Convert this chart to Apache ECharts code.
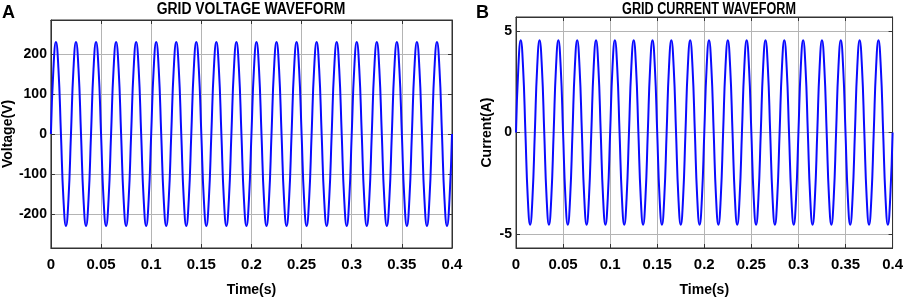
<!DOCTYPE html>
<html>
<head>
<meta charset="utf-8">
<script src="https://cdn.jsdelivr.net/npm/echarts@6/dist/echarts.min.js"></script>
<style>
html,body{margin:0;padding:0;background:#fff;}
#c{width:906px;height:302px;}
</style>
</head>
<body>
<div id="c"></div>
<script>
var timeS = [
0,0.0025,0.005,0.0075,0.01,0.0125,0.015,0.0175,
0.02,0.0225,0.025,0.0275,0.03,0.0325,0.035,0.0375,
0.04,0.0425,0.045,0.0475,0.05,0.0525,0.055,0.0575,
0.06,0.0625,0.065,0.0675,0.07,0.0725,0.075,0.0775,
0.08,0.0825,0.085,0.0875,0.09,0.0925,0.095,0.0975,
0.1,0.1025,0.105,0.1075,0.11,0.1125,0.115,0.1175,
0.12,0.1225,0.125,0.1275,0.13,0.1325,0.135,0.1375,
0.14,0.1425,0.145,0.1475,0.15,0.1525,0.155,0.1575,
0.16,0.1625,0.165,0.1675,0.17,0.1725,0.175,0.1775,
0.18,0.1825,0.185,0.1875,0.19,0.1925,0.195,0.1975,
0.2,0.2025,0.205,0.2075,0.21,0.2125,0.215,0.2175,
0.22,0.2225,0.225,0.2275,0.23,0.2325,0.235,0.2375,
0.24,0.2425,0.245,0.2475,0.25,0.2525,0.255,0.2575,
0.26,0.2625,0.265,0.2675,0.27,0.2725,0.275,0.2775,
0.28,0.2825,0.285,0.2875,0.29,0.2925,0.295,0.2975,
0.3,0.3025,0.305,0.3075,0.31,0.3125,0.315,0.3175,
0.32,0.3225,0.325,0.3275,0.33,0.3325,0.335,0.3375,
0.34,0.3425,0.345,0.3475,0.35,0.3525,0.355,0.3575,
0.36,0.3625,0.365,0.3675,0.37,0.3725,0.375,0.3775,
0.38,0.3825,0.385,0.3875,0.39,0.3925,0.395,0.3975,
0.4
];
var gridVoltage = [
0,163,230,163,0,-163,-230,-163,
0,163,230,163,0,-163,-230,-163,
0,163,230,163,0,-163,-230,-163,
0,163,230,163,0,-163,-230,-163,
0,163,230,163,0,-163,-230,-163,
0,163,230,163,0,-163,-230,-163,
0,163,230,163,0,-163,-230,-163,
0,163,230,163,0,-163,-230,-163,
0,163,230,163,0,-163,-230,-163,
0,163,230,163,0,-163,-230,-163,
0,163,230,163,0,-163,-230,-163,
0,163,230,163,0,-163,-230,-163,
0,163,230,163,0,-163,-230,-163,
0,163,230,163,0,-163,-230,-163,
0,163,230,163,0,-163,-230,-163,
0,163,230,163,0,-163,-230,-163,
0,163,230,163,0,-163,-230,-163,
0,163,230,163,0,-163,-230,-163,
0,163,230,163,0,-163,-230,-163,
0,163,230,163,0,-163,-230,-163,
0
];
var gridCurrent = [
0,3.22,4.55,3.22,0,-3.22,-4.55,-3.22,
0,3.22,4.55,3.22,0,-3.22,-4.55,-3.22,
0,3.22,4.55,3.22,0,-3.22,-4.55,-3.22,
0,3.22,4.55,3.22,0,-3.22,-4.55,-3.22,
0,3.22,4.55,3.22,0,-3.22,-4.55,-3.22,
0,3.22,4.55,3.22,0,-3.22,-4.55,-3.22,
0,3.22,4.55,3.22,0,-3.22,-4.55,-3.22,
0,3.22,4.55,3.22,0,-3.22,-4.55,-3.22,
0,3.22,4.55,3.22,0,-3.22,-4.55,-3.22,
0,3.22,4.55,3.22,0,-3.22,-4.55,-3.22,
0,3.22,4.55,3.22,0,-3.22,-4.55,-3.22,
0,3.22,4.55,3.22,0,-3.22,-4.55,-3.22,
0,3.22,4.55,3.22,0,-3.22,-4.55,-3.22,
0,3.22,4.55,3.22,0,-3.22,-4.55,-3.22,
0,3.22,4.55,3.22,0,-3.22,-4.55,-3.22,
0,3.22,4.55,3.22,0,-3.22,-4.55,-3.22,
0,3.22,4.55,3.22,0,-3.22,-4.55,-3.22,
0,3.22,4.55,3.22,0,-3.22,-4.55,-3.22,
0,3.22,4.55,3.22,0,-3.22,-4.55,-3.22,
0,3.22,4.55,3.22,0,-3.22,-4.55,-3.22,
0
];
var voltageTicks = [-200,-100,0,100,200];
var currentTicks = [-5,0,5];
var titles = ['GRID VOLTAGE WAVEFORM','GRID CURRENT WAVEFORM'];
var panelLetters = ['A','B'];
var yNames = ['Voltage(V)','Current(A)'];
var xName = 'Time(s)';

var FONT = "'Liberation Sans',Arial,sans-serif";
var chart = echarts.init(document.getElementById('c'), null, {renderer:'canvas'});

function pairs(vals){ return timeS.map(function(t,i){return [t, vals[i]];}); }

var gridLine = {show:true, lineStyle:{color:'#b4b4b4', width:1}};

function xAxisMain(gi){
  return {type:'value', gridIndex:gi, min:0, max:0.4, interval:0.05, position:'bottom',
    axisLine:{show:true, onZero:false, lineStyle:{color:'#333', width:1}},
    axisTick:{show:true, inside:true, length:4, lineStyle:{color:'#333'}},
    splitLine:gridLine,
    axisLabel:{margin:9, fontFamily:FONT, fontWeight:'bold', fontSize:15, color:'#000'},
    name:xName, nameLocation:'middle', nameGap:35,
    nameTextStyle:{fontFamily:FONT, fontWeight:'bold', fontSize:14, color:'#000'}};
}
function xAxisTop(gi){
  return {type:'value', gridIndex:gi, min:0, max:0.4, interval:0.05, position:'top',
    axisLine:{show:true, onZero:false, lineStyle:{color:'#333'}},
    axisTick:{show:true, inside:true, length:4, lineStyle:{color:'#333'}},
    splitLine:{show:false}, axisLabel:{show:false}};
}
function yAxisMain(gi, mn, mx, split, ticks, name, gap){
  return {type:'value', gridIndex:gi, min:mn, max:mx, splitNumber:split, position:'left',
    axisLine:{show:true, onZero:false, lineStyle:{color:'#333'}},
    axisTick:{show:true, inside:true, length:4, lineStyle:{color:'#333'}},
    splitLine:gridLine,
    axisLabel:{margin:4, fontFamily:FONT, fontWeight:'bold', fontSize:14, color:'#000',
      formatter:function(v){
        return ticks.indexOf(Math.round(v*1000)/1000) >= 0 ? String(v) : '';}},
    name:name, nameLocation:'middle', nameGap:gap, nameRotate:90,
    nameTextStyle:{fontFamily:FONT, fontWeight:'bold', fontSize:14, color:'#000'}};
}
function yAxisRight(gi, mn, mx, split){
  return {type:'value', gridIndex:gi, min:mn, max:mx, splitNumber:split, position:'right',
    axisLine:{show:true, onZero:false, lineStyle:{color:'#333'}},
    axisTick:{show:true, inside:true, length:4, lineStyle:{color:'#333'}},
    splitLine:{show:false}, axisLabel:{show:false}};
}

var option = {
  animation:false,
  backgroundColor:'#fff',
  graphic:[
    {type:'text', x:251, y:2, scaleX:0.87,
      style:{text:titles[0], textAlign:'center', textVerticalAlign:'top',
        font:"bold 16px 'Liberation Sans',Arial,sans-serif", fill:'#000'}},
    {type:'text', x:709, y:2, scaleX:0.79,
      style:{text:titles[1], textAlign:'center', textVerticalAlign:'top',
        font:"bold 16px 'Liberation Sans',Arial,sans-serif", fill:'#000'}},
    {type:'text', x:2, y:4,
      style:{text:panelLetters[0], textAlign:'left', textVerticalAlign:'top',
        font:"bold 18px 'Liberation Sans',Arial,sans-serif", fill:'#000'}},
    {type:'text', x:476, y:4,
      style:{text:panelLetters[1], textAlign:'left', textVerticalAlign:'top',
        font:"bold 18px 'Liberation Sans',Arial,sans-serif", fill:'#000'}}
  ],
  grid:[
    {left:49, right:454, top:20, bottom:54, show:true, borderColor:'#333', borderWidth:1, containLabel:false},
    {left:516, right:12, top:17, bottom:52, show:true, borderColor:'#333', borderWidth:1, containLabel:false}
  ],
  xAxis:[xAxisMain(0), xAxisTop(0), xAxisMain(1), xAxisTop(1)],
  yAxis:[
    yAxisMain(0, -285, 285, 5, voltageTicks, yNames[0], 30),
    yAxisRight(0, -285, 285, 5),
    yAxisMain(1, -5.7, 5.7, 2, currentTicks, yNames[1], 22),
    yAxisRight(1, -5.7, 5.7, 2)
  ],
  series:[
    {type:'line', xAxisIndex:0, yAxisIndex:0, data:pairs(gridVoltage), smooth:true,
      showSymbol:false, lineStyle:{color:'#0a0aff', width:2}, z:3},
    {type:'line', xAxisIndex:2, yAxisIndex:2, data:pairs(gridCurrent), smooth:true,
      showSymbol:false, lineStyle:{color:'#0a0aff', width:2}, z:3}
  ]
};
chart.setOption(option);
</script>
</body>
</html>
